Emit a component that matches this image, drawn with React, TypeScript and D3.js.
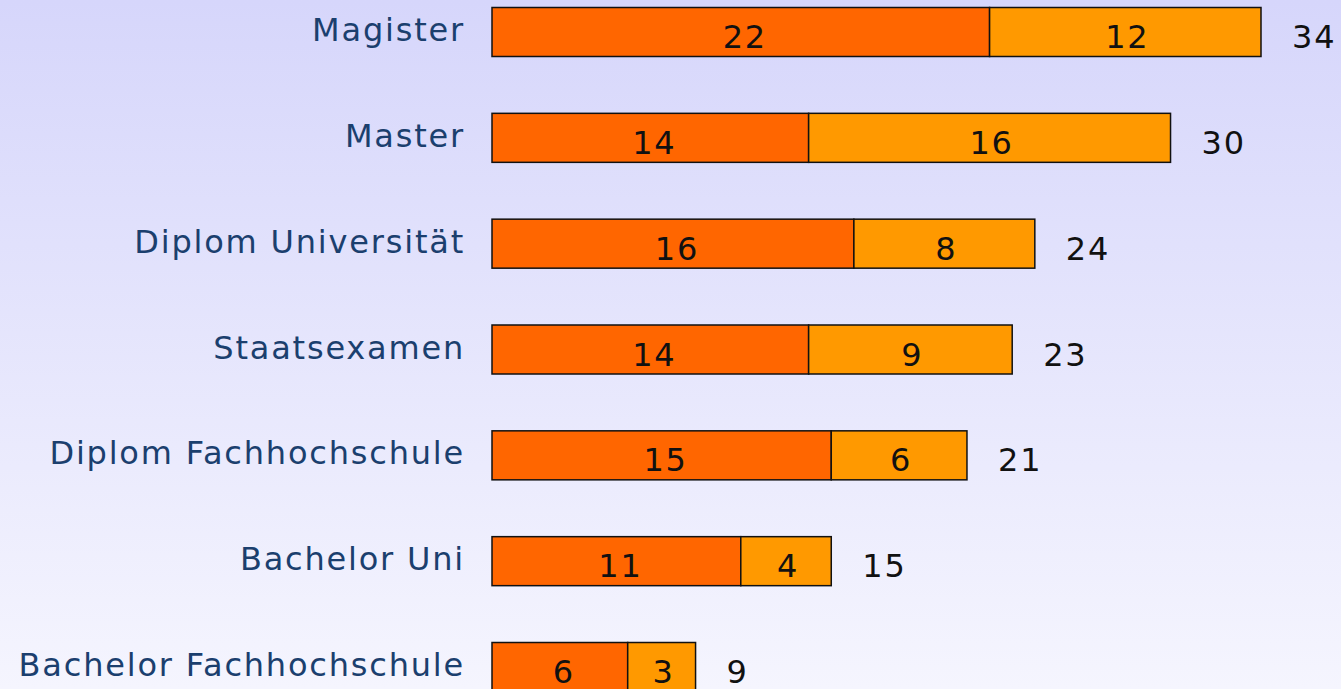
import React, { useEffect, useRef } from 'react';
import * as d3 from 'd3';

const categories = [
  'Magister',
  'Master',
  'Diplom Universität',
  'Staatsexamen',
  'Diplom Fachhochschule',
  'Bachelor Uni',
  'Bachelor Fachhochschule',
];
const firstValues = [22, 14, 16, 14, 15, 11, 6];
const secondValues = [12, 16, 8, 9, 6, 4, 3];
const totals = [34, 30, 24, 23, 21, 15, 9];

const WIDTH = 1341;
const HEIGHT = 689;
const FONT = '"DejaVu Sans", Verdana, sans-serif';

export default function App() {
  const svgRef = useRef<SVGSVGElement>(null);

  useEffect(() => {
    if (!svgRef.current) return;
    const svg = d3.select(svgRef.current);
    svg.selectAll('*').remove();

    // background gradient
    const grad = svg
      .append('defs')
      .append('linearGradient')
      .attr('id', 'bg')
      .attr('x1', 0)
      .attr('y1', 0)
      .attr('x2', 0)
      .attr('y2', 1);
    grad.append('stop').attr('offset', '0%').attr('stop-color', '#d6d6fb');
    grad.append('stop').attr('offset', '100%').attr('stop-color', '#f5f5fe');
    svg.append('rect').attr('width', WIDTH).attr('height', HEIGHT).attr('fill', 'url(#bg)');

    const x = d3.scaleLinear().domain([0, 34]).range([492, 1261]);
    const y = d3.scalePoint<string>().domain(categories).range([32, 667]);
    const barH = 49;

    const rows = categories.map((c, i) => ({
      cat: c,
      a: firstValues[i],
      b: secondValues[i],
      total: totals[i],
    }));

    const g = svg.append('g');

    // category labels
    g.selectAll('.cat')
      .data(rows)
      .enter()
      .append('text')
      .attr('x', 465)
      .attr('y', (d) => (y(d.cat) || 0) + 9)
      .attr('text-anchor', 'end')
      .style('font-family', FONT)
      .style('font-size', '32px')
      .style('letter-spacing', '1.8px')
      .style('fill', '#1b3f6e')
      .text((d) => d.cat);

    // first segment
    g.selectAll('.seg1')
      .data(rows)
      .enter()
      .append('rect')
      .attr('x', x(0))
      .attr('y', (d) => (y(d.cat) || 0) - barH / 2)
      .attr('width', (d) => x(d.a) - x(0))
      .attr('height', barH)
      .style('fill', '#ff6600')
      .style('stroke', '#111')
      .style('stroke-width', '1.5px');

    // second segment
    g.selectAll('.seg2')
      .data(rows)
      .enter()
      .append('rect')
      .attr('x', (d) => x(d.a))
      .attr('y', (d) => (y(d.cat) || 0) - barH / 2)
      .attr('width', (d) => x(d.a + d.b) - x(d.a))
      .attr('height', barH)
      .style('fill', '#ff9900')
      .style('stroke', '#111')
      .style('stroke-width', '1.5px');

    const numStyle = (sel: any) =>
      sel
        .style('font-family', FONT)
        .style('font-size', '32px')
        .style('letter-spacing', '1.8px')
        .style('fill', '#111');

    // segment labels
    g.selectAll('.lab1')
      .data(rows)
      .enter()
      .append('text')
      .attr('x', (d) => (x(0) + x(d.a)) / 2 + 4)
      .attr('y', (d) => (y(d.cat) || 0) + 16)
      .attr('text-anchor', 'middle')
      .call(numStyle)
      .text((d) => d.a);

    g.selectAll('.lab2')
      .data(rows)
      .enter()
      .append('text')
      .attr('x', (d) => (x(d.a) + x(d.a + d.b)) / 2 + 2)
      .attr('y', (d) => (y(d.cat) || 0) + 16)
      .attr('text-anchor', 'middle')
      .call(numStyle)
      .text((d) => d.b);

    // totals
    g.selectAll('.tot')
      .data(rows)
      .enter()
      .append('text')
      .attr('x', (d) => x(d.total) + 31)
      .attr('y', (d) => (y(d.cat) || 0) + 16)
      .attr('text-anchor', 'start')
      .call(numStyle)
      .text((d) => d.total);

    return () => {
      svg.selectAll('*').remove();
    };
  }, []);

  return (
    <div style={{ position: 'fixed', left: 0, top: 0, width: WIDTH, height: HEIGHT, overflow: 'hidden' }}>
      <svg ref={svgRef} width={WIDTH} height={HEIGHT} style={{ display: 'block' }} />
    </div>
  );
}
